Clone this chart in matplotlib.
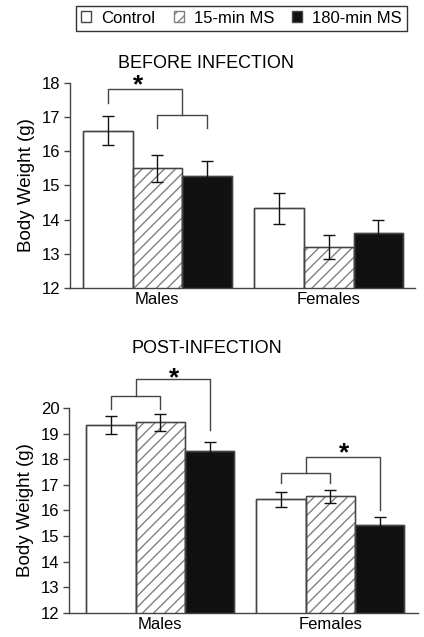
import numpy as np
import matplotlib
matplotlib.use("Agg")
import matplotlib.pyplot as plt
from matplotlib.patches import Patch

plt.rcParams['font.family'] = ['Liberation Sans', 'DejaVu Sans']
plt.rcParams['hatch.linewidth'] = 1.0

groups = ["Males", "Females"]
series = ["Control", "15-min MS", "180-min MS"]

# before infection: rows = groups, cols = series
before_mean = [[16.6, 15.5, 15.28], [14.33, 13.2, 13.62]]
before_err = [[0.42, 0.4, 0.43], [0.45, 0.35, 0.38]]
# post infection
post_mean = [[19.35, 19.44, 18.33], [16.43, 16.55, 15.45]]
post_err = [[0.35, 0.34, 0.35], [0.3, 0.26, 0.28]]

faces = ["white", "white", "#111111"]
hatches = [None, "///", None]
edges = ["#444444", "#808080", "#444444"]
EDGE = "#444444"
GAP = 3.45


def draw(ax, means, errs, ymin, ymax, ticks):
    for g in range(2):
        for s in range(3):
            x = g * GAP + s
            ax.bar(x, means[g][s], width=1.0, bottom=0, color=faces[s],
                   edgecolor=edges[s], hatch=hatches[s], linewidth=1.0, zorder=2)
            ax.bar(x, means[g][s], width=1.0, bottom=0, color="none",
                   edgecolor=EDGE, linewidth=1.0, zorder=2.5)
            ax.errorbar(x, means[g][s], yerr=errs[g][s], fmt="none",
                        ecolor="#111111", elinewidth=1.0, capsize=4.5,
                        capthick=1.0, zorder=3)
    ax.set_ylim(ymin, ymax)
    ax.set_yticks(ticks)
    ax.set_xticks([1, GAP + 1])
    ax.set_xticklabels(groups, fontsize=12)
    ax.tick_params(axis="x", length=0, pad=3)
    ax.tick_params(axis="y", labelsize=12, length=4, width=1, color=EDGE,
                   direction="out", pad=3)
    for sp in ["top", "right"]:
        ax.spines[sp].set_visible(False)
    for sp in ["left", "bottom"]:
        ax.spines[sp].set_color(EDGE)
        ax.spines[sp].set_linewidth(1.0)
    ax.set_ylabel("Body Weight (g)", fontsize=13.5, labelpad=5)


def bracket(ax, x1, x2, y, l1, l2):
    ax.plot([x1, x1, x2, x2], [l1, y, y, l2], color=EDGE, lw=1.0,
            clip_on=False, zorder=4)


def star(ax, x, y):
    ax.text(x, y, "*", fontsize=19, fontweight="bold", ha="center",
            va="baseline", clip_on=False)


fig = plt.figure(figsize=(4.24, 6.37), dpi=100)

ax1 = fig.add_axes([0.165, 0.548, 0.814, 0.322])
draw(ax1, before_mean, before_err, 12, 18, range(12, 19))
ax1.set_xlim(-0.76, 2 + GAP + 0.74)
bracket(ax1, 0, 1.5, 17.83, 17.42, 17.06)
bracket(ax1, 1, 2, 17.06, 16.69, 16.69)
star(ax1, 0.62, 17.72)

ax2 = fig.add_axes([0.163, 0.0377, 0.823, 0.3218])
draw(ax2, post_mean, post_err, 12, 20, range(12, 21))
ax2.set_xlim(-0.85, 2 + GAP + 0.78)
bracket(ax2, 0, 1, 20.47, 19.95, 19.95)
bracket(ax2, 0.5, 2, 21.12, 20.47, 19.13)
star(ax2, 1.28, 20.9)
bracket(ax2, GAP, GAP + 1, 17.47, 17.08, 17.08)
bracket(ax2, GAP + 0.5, GAP + 2, 18.09, 17.47, 16.02)
star(ax2, GAP + 1.27, 17.95)

fig.text(0.487, 0.901, "BEFORE INFECTION", fontsize=13, ha="center", va="center")
fig.text(0.488, 0.453, "POST-INFECTION", fontsize=13, ha="center", va="center")

handles = [Patch(facecolor=faces[i], edgecolor=edges[i], hatch=hatches[i]) for i in range(3)]
leg = fig.legend(handles, series, loc="center", bbox_to_anchor=(0.57, 0.9715),
                 ncol=3, fontsize=12, frameon=True, fancybox=False,
                 handlelength=0.6, handleheight=0.6, handletextpad=0.6,
                 columnspacing=1.1, borderpad=0.3)
leg.get_frame().set_edgecolor("black")
leg.get_frame().set_linewidth(1.0)

fig.savefig("out.png", dpi=100)
